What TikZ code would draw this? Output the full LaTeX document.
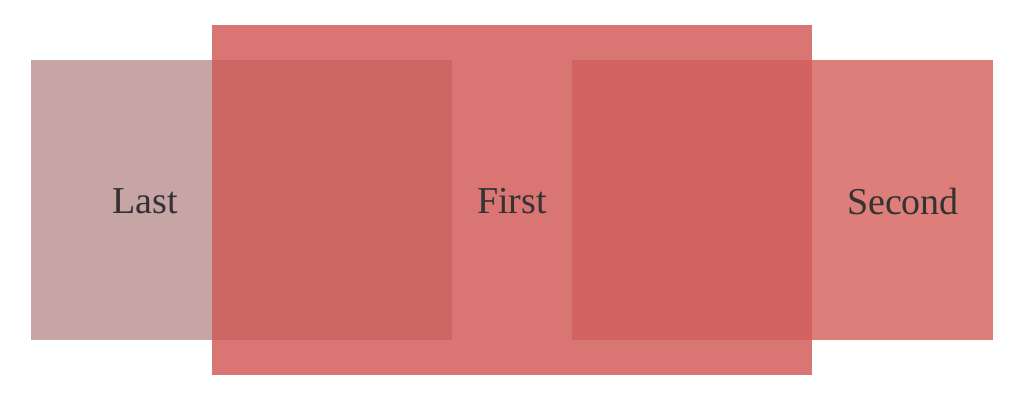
\documentclass[tikz,border=0pt]{standalone}
\usepackage{fontspec}
\setmainfont{Liberation Serif}
\definecolor{lastc}{HTML}{C6A5A4}
\definecolor{firstc}{HTML}{D97673}
\definecolor{secondc}{HTML}{DD7E7B}
\definecolor{lastfirst}{HTML}{CD6764}
\definecolor{firstsecond}{HTML}{D26360}
\definecolor{ink}{HTML}{333333}
\tikzset{lbl/.style={text=ink,font=\fontsize{38}{44}\selectfont}}
\begin{document}
\begin{tikzpicture}[x=1pt,y=-1pt]
\useasboundingbox (0,0) rectangle (1024,400);
\fill[lastc] (31,60) rectangle (452,340);
\fill[secondc] (572,60) rectangle (993,340);
\fill[firstc] (212,25) rectangle (812,375);
\fill[lastfirst] (212,60) rectangle (452,340);
\fill[firstsecond] (572,60) rectangle (812,340);
\node[lbl] (last) at (145,201) {Last};
\node[lbl] (first) at (512,201) {First};
\node[lbl] (second) at (903,201) {Second};
\end{tikzpicture}
\end{document}
